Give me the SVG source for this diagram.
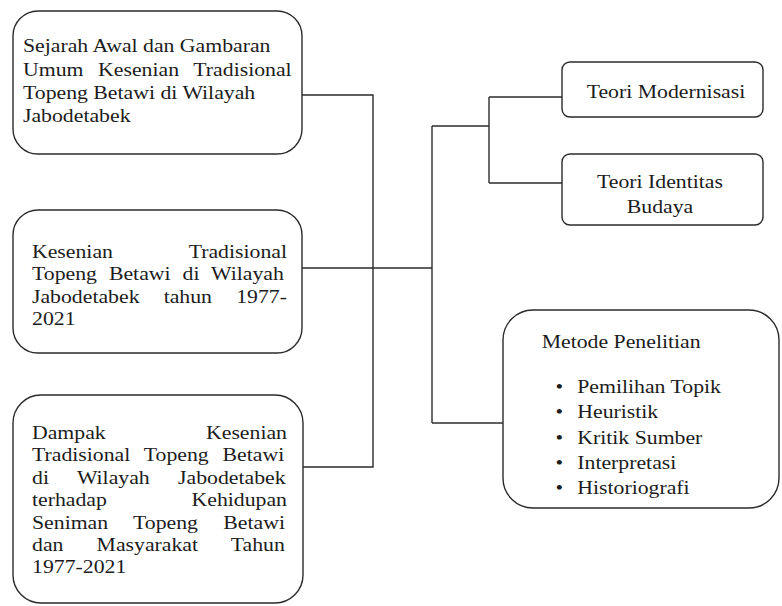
<svg xmlns="http://www.w3.org/2000/svg" width="782" height="606" viewBox="0 0 782 606">
<style>
.box{fill:#fff;stroke:#2b2b2b;stroke-width:1.4}
.ln{fill:none;stroke:#2b2b2b;stroke-width:1.4}
text{font-family:"Liberation Serif","Times New Roman",serif;font-size:18.6px;fill:#1c1c1c}
.e{text-anchor:end}
.m{text-anchor:middle}
</style>
<rect width="782" height="606" fill="#fff"/>
<g id="connectors">
<polyline class="ln" points="302,95 373,95 373,467 303,467"/>
<line class="ln" x1="302" y1="268" x2="432" y2="268"/>
<line class="ln" x1="432" y1="126" x2="432" y2="423"/>
<line class="ln" x1="432" y1="126" x2="489" y2="126"/>
<line class="ln" x1="489" y1="97" x2="489" y2="183"/>
<line class="ln" x1="489" y1="97" x2="562" y2="97"/>
<line class="ln" x1="489" y1="183" x2="562" y2="183"/>
<line class="ln" x1="432" y1="423" x2="503" y2="423"/>
</g>
<g id="n1">
<rect class="box" x="13" y="11" width="289" height="143" rx="25"/>
<g transform="scale(1.17 1)">
<text x="19.66" y="52.5">Sejarah Awal dan Gambaran</text>
<text x="19.66" y="75.6" word-spacing="7.9">Umum Kesenian Tradisional</text>
<text x="19.66" y="98.7">Topeng Betawi di Wilayah</text>
<text x="19.66" y="121.8">Jabodetabek</text>
</g>
</g>
<g id="n2">
<rect class="box" x="13" y="210" width="289" height="143" rx="25"/>
<g transform="scale(1.17 1)">
<text x="27.35" y="258">Kesenian</text>
<text class="e" x="245.3" y="258">Tradisional</text>
<text x="27.35" y="280.4" word-spacing="5.6">Topeng Betawi di Wilayah</text>
<text x="27.35" y="302.8" word-spacing="16">Jabodetabek tahun 1977-</text>
<text x="27.35" y="325.2">2021</text>
</g>
</g>
<g id="n3">
<rect class="box" x="13" y="395" width="290" height="208" rx="28"/>
<g transform="scale(1.17 1)">
<text x="27.35" y="439">Dampak</text>
<text class="e" x="245.3" y="439">Kesenian</text>
<text x="27.35" y="461.4" word-spacing="7.2">Tradisional Topeng Betawi</text>
<text x="27.35" y="483.8" word-spacing="19.6">di Wilayah Jabodetabek</text>
<text x="27.35" y="506.2">terhadap</text>
<text class="e" x="245.3" y="506.2">Kehidupan</text>
<text x="27.35" y="528.6" word-spacing="17">Seniman Topeng Betawi</text>
<text x="27.35" y="551" word-spacing="23.7">dan Masyarakat Tahun</text>
<text x="27.35" y="573.4">1977-2021</text>
</g>
</g>
<g id="n4">
<rect class="box" x="562" y="62" width="201" height="55" rx="8"/>
<g transform="scale(1.17 1)">
<text x="501.45" y="98.5">Teori Modernisasi</text>
</g>
</g>
<g id="n5">
<rect class="box" x="562" y="154" width="201" height="71" rx="8"/>
<g transform="scale(1.17 1)">
<text class="m" x="564.1" y="188.3">Teori Identitas</text>
<text class="m" x="564.1" y="213">Budaya</text>
</g>
</g>
<g id="n6">
<rect class="box" x="503" y="310" width="276" height="198" rx="30"/>
<g transform="scale(1.17 1)">
<text x="463" y="348.3">Metode Penelitian</text>
<text class="m" x="478" y="393">•</text>
<text x="493.4" y="393">Pemilihan Topik</text>
<text class="m" x="478" y="418.3">•</text>
<text x="493.4" y="418.3">Heuristik</text>
<text class="m" x="478" y="443.6">•</text>
<text x="493.4" y="443.6">Kritik Sumber</text>
<text class="m" x="478" y="468.9">•</text>
<text x="493.4" y="468.9">Interpretasi</text>
<text class="m" x="478" y="494.2">•</text>
<text x="493.4" y="494.2">Historiografi</text>
</g>
</g>
</svg>
